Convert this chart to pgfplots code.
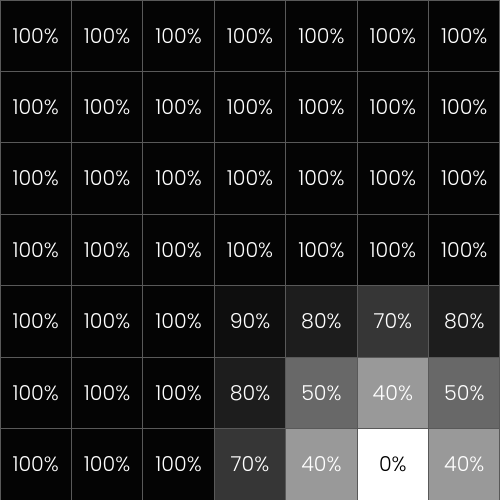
\documentclass[border=0pt]{standalone}
\usepackage{fontspec}
\setmainfont{Poppins Light}
\usepackage{pgfplots}
\pgfplotsset{compat=1.18}
\usepackage{pgfplotstable}

\pgfplotstableread{
x y v
0 0 100
1 0 100
2 0 100
3 0 100
4 0 100
5 0 100
6 0 100
0 1 100
1 1 100
2 1 100
3 1 100
4 1 100
5 1 100
6 1 100
0 2 100
1 2 100
2 2 100
3 2 100
4 2 100
5 2 100
6 2 100
0 3 100
1 3 100
2 3 100
3 3 100
4 3 100
5 3 100
6 3 100
0 4 100
1 4 100
2 4 100
3 4 90
4 4 80
5 4 70
6 4 80
0 5 100
1 5 100
2 5 100
3 5 80
4 5 50
5 5 40
6 5 50
0 6 100
1 6 100
2 6 100
3 6 70
4 6 40
5 6 0
6 6 40
}\cells

\begin{document}
\begin{tikzpicture}
\begin{axis}[
  scale only axis,
  width=7cm, height=7cm,
  xmin=-0.5, xmax=6.5, ymin=-0.5, ymax=6.5,
  y dir=reverse,
  axis line style={draw=none},
  ticks=none,
  point meta min=0, point meta max=100,
  /pgf/number format/assume math mode=true,
  colormap={shade}{
    rgb255(0cm)=(255,255,255);
    rgb255(40cm)=(153,153,153);
    rgb255(50cm)=(104,104,104);
    rgb255(70cm)=(54,54,54);
    rgb255(80cm)=(29,29,29);
    rgb255(90cm)=(14,14,14);
    rgb255(100cm)=(4,4,4)
  },
]
\addplot[
  matrix plot*,
  mesh/cols=7,
  point meta=explicit,
  draw=gray!70!black, line width=0.4pt,
  visualization depends on={\thisrow{v} \as \val},
  nodes near coords={%
    \ifdim\val pt<20pt \color{black}\else\color{white}\fi
    \pgfmathprintnumber[assume math mode=true]{\pgfplotspointmeta}\%},
  nodes near coords align={center},
  every node near coord/.append style={font=\fontsize{8.2}{10}\selectfont, anchor=center},
] table[x=x, y=y, meta=v] {\cells};
\end{axis}
\end{tikzpicture}
\end{document}
